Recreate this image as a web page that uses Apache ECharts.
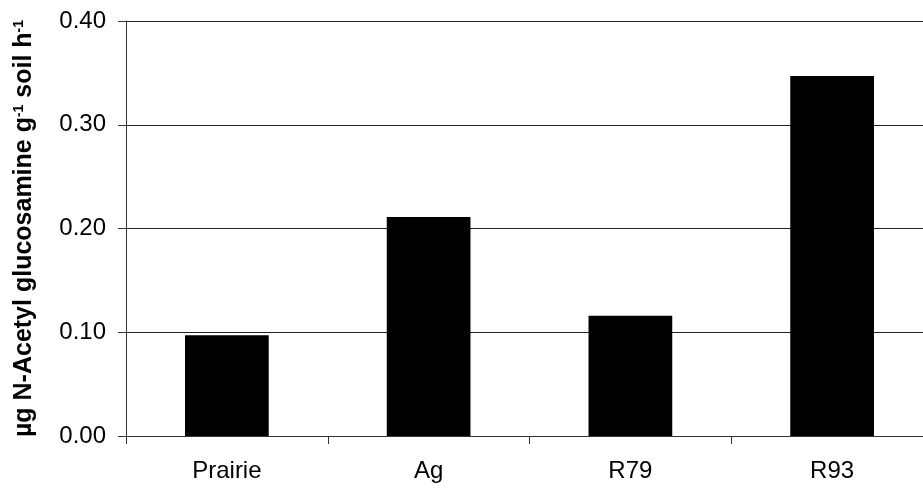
<!DOCTYPE html>
<html><head><meta charset="utf-8">
<script src="https://cdn.jsdelivr.net/npm/echarts@6/dist/echarts.min.js"></script>
<style>html,body{margin:0;padding:0;background:#fff}#c{width:923px;height:489px}</style>
</head><body><div id="c"></div>
<script>
const categories = ['Prairie', 'Ag', 'R79', 'R93'];
const values = [0.097, 0.211, 0.116, 0.347];
const yTicks = [0, 0.1, 0.2, 0.3, 0.4];

const chart = echarts.init(document.getElementById('c'), null, {renderer: 'canvas'});
chart.setOption({
  animation: false,
  backgroundColor: '#fff',
  grid: {left: 126, top: 21, right: -10, bottom: 53, containLabel: false, outerBoundsMode: 'none'},
  xAxis: {
    type: 'category',
    data: categories,
    axisLine: {lineStyle: {color: '#333', width: 1}},
    axisTick: {show: true, length: 8, alignWithLabel: false, lineStyle: {color: '#333'}},
    axisLabel: {color: '#000', fontFamily: 'Liberation Sans, Arial', fontSize: 24, margin: 23}
  },
  yAxis: {
    type: 'value',
    min: yTicks[0], max: yTicks[yTicks.length - 1], interval: 0.1,
    axisLine: {show: true, lineStyle: {color: '#333', width: 1}},
    axisTick: {show: true, length: 8, lineStyle: {color: '#333'}},
    splitLine: {show: true, lineStyle: {color: '#222', width: 1}},
    axisLabel: {color: '#000', fontFamily: 'Liberation Sans, Arial', fontSize: 24, margin: 20,
      formatter: v => v.toFixed(2)},
    name: '{a|µg N-Acetyl glucosamine g}{s|-1}{a| soil h}{s|-1}',
    nameLocation: 'middle',
    nameGap: 89,
    nameRotate: 90,
    nameTextStyle: {
      rich: {
        a: {fontFamily: 'Liberation Sans, Arial', fontWeight: 'bold', fontSize: 25, color: '#000', lineHeight: 25, verticalAlign: 'bottom'},
        s: {fontFamily: 'Liberation Sans, Arial', fontWeight: 'bold', fontSize: 14, color: '#000', lineHeight: 25, verticalAlign: 'top', padding: [0,0,10,0]}
      }
    }
  },
  series: [{
    type: 'bar',
    data: values,
    barWidth: '41.5%',
    itemStyle: {color: '#000'}
  }]
});
</script></body></html>
